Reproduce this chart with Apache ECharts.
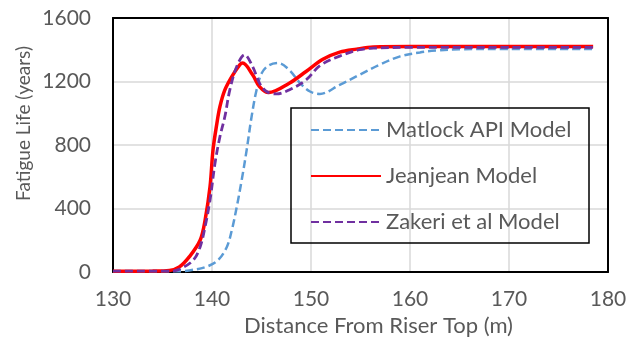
<!DOCTYPE html>
<html>
<head>
<meta charset="utf-8">
<script src="https://cdn.jsdelivr.net/npm/echarts@6/dist/echarts.min.js"></script>
<style>
  html, body { margin: 0; padding: 0; background: #fff; }
  #chart { width: 642px; height: 337px; }
</style>
</head>
<body>
<div id="chart"></div>
<script>
// Fatigue life along the riser, for three soil models: [distance (m), life (years)]
const seriesNames = ['Matlock API Model', 'Jeanjean Model', 'Zakeri et al Model'];

const matlockAPI = [
  [130, 3], [136.7, 5], [137.7, 10], [139.4, 32], [140.6, 74], [141.5, 158],
  [142.0, 263], [142.5, 410], [143.0, 579], [143.5, 768], [144.0, 979],
  [144.5, 1147], [145.0, 1250], [145.7, 1300], [146.7, 1316], [147.8, 1273],
  [148.9, 1190], [149.9, 1137], [150.9, 1122], [152.9, 1179], [154.9, 1242],
  [156.9, 1305], [159.0, 1358], [161.0, 1383], [162.7, 1395], [165, 1403],
  [170, 1405], [178.5, 1405]
];

const jeanjean = [
  [130, 5], [134, 6], [135.7, 10], [136.7, 32], [137.7, 95], [138.8, 200],
  [139.3, 326], [139.8, 537], [140.1, 768], [140.5, 939], [140.8, 1042],
  [141.3, 1147], [142.0, 1231], [142.8, 1305], [143.1, 1316], [144.1, 1242],
  [144.8, 1168], [145.7, 1130], [147.8, 1189], [149.5, 1263], [151.2, 1340],
  [152.9, 1385], [154.6, 1404], [156.3, 1417], [160, 1420], [170, 1420],
  [178.5, 1420]
];

const zakeri = [
  [130, 5], [136, 6], [136.7, 17], [138.1, 74], [138.8, 158], [139.3, 284],
  [139.8, 453], [140.3, 684], [140.8, 852], [141.3, 979], [141.8, 1147],
  [142.5, 1294], [143.3, 1368], [144.1, 1294], [144.8, 1190], [145.5, 1137],
  [146.5, 1122], [147.8, 1147], [149.5, 1210], [150.9, 1300], [152.9, 1360],
  [154.9, 1400], [156.3, 1410], [160, 1415], [170, 1415], [178.5, 1415]
];

const xTicks = { min: 130, max: 180, step: 10 };
const yTicks = { min: 0, max: 1600, step: 400 };

const FONT = 'Lato';
const TEXT_GREY = '#595959';
const GRID_GREY = '#d9d9d9';
const FRAME = { show: true, onZero: false, lineStyle: { color: '#000', width: 2 } };

const chart = echarts.init(document.getElementById('chart'), null, { renderer: 'canvas' });

chart.setOption({
  animation: false,
  backgroundColor: '#ffffff',
  textStyle: { fontFamily: FONT },
  grid: {
    left: 113, right: 34, top: 18, bottom: 65,
    outerBoundsMode: 'none', containLabel: false
  },
  xAxis: [{
    type: 'value',
    min: xTicks.min, max: xTicks.max, interval: xTicks.step,
    name: 'Distance From Riser Top (m)',
    nameLocation: 'middle',
    nameGap: 34,
    nameTextStyle: { color: TEXT_GREY, fontSize: 22, fontFamily: FONT, padding: [0, 0, 0, 36] },
    axisLine: FRAME,
    axisTick: { show: false },
    axisLabel: { color: TEXT_GREY, fontSize: 21, fontFamily: FONT, margin: 17, formatter: v => String(v) },
    splitLine: { show: true, lineStyle: { color: GRID_GREY, width: 1.5 } }
  }, {
    // top edge of the plot frame
    type: 'value', position: 'top',
    min: xTicks.min, max: xTicks.max, interval: xTicks.step,
    axisLine: FRAME, axisTick: { show: false }, axisLabel: { show: false }, splitLine: { show: false }
  }],
  yAxis: [{
    type: 'value',
    min: yTicks.min, max: yTicks.max, interval: yTicks.step,
    axisLine: FRAME,
    axisTick: { show: false },
    axisLabel: { color: TEXT_GREY, fontSize: 21, fontFamily: FONT, margin: 22, formatter: v => String(v) },
    splitLine: { show: true, lineStyle: { color: GRID_GREY, width: 1.5 } }
  }, {
    // right edge of the plot frame
    type: 'value', position: 'right',
    min: yTicks.min, max: yTicks.max, interval: yTicks.step,
    axisLine: FRAME, axisTick: { show: false }, axisLabel: { show: false }, splitLine: { show: false }
  }],
  legend: {
    orient: 'vertical',
    left: 291, top: 108,
    padding: [11, 15, 13, 19],
    itemWidth: 70, itemHeight: 20, itemGap: 24,
    itemStyle: { opacity: 0 },
    textStyle: { color: TEXT_GREY, fontSize: 22, fontFamily: FONT, lineHeight: 20 },
    data: seriesNames.slice(),
    z: 10
  },
  graphic: [{
    type: 'rect',
    z: 9,
    shape: { x: 291, y: 108, width: 298, height: 135 },
    style: { fill: 'none', stroke: '#000', lineWidth: 1.5 }
  }, {
    type: 'text',
    x: 24, y: 123.5,
    rotation: Math.PI / 2,
    style: {
      text: 'Fatigue Life (years)', fill: TEXT_GREY, fontSize: 19, fontFamily: FONT,
      align: 'center', verticalAlign: 'middle'
    }
  }],
  series: [
    {
      name: seriesNames[0], type: 'line', data: matlockAPI, smooth: 0.35,
      symbol: 'none', z: 2,
      lineStyle: { color: '#5B9BD5', width: 2.5, type: [8, 4] },
      itemStyle: { color: '#5B9BD5' }
    },
    {
      name: seriesNames[1], type: 'line', data: jeanjean, smooth: 0.35,
      symbol: 'none', z: 3,
      lineStyle: { color: '#FF0000', width: 3.5 },
      itemStyle: { color: '#FF0000' }
    },
    {
      name: seriesNames[2], type: 'line', data: zakeri, smooth: 0.35,
      symbol: 'none', z: 4,
      lineStyle: { color: '#7030A0', width: 2.8, type: [8, 4] },
      itemStyle: { color: '#7030A0' }
    }
  ]
});
</script>
</body>
</html>
